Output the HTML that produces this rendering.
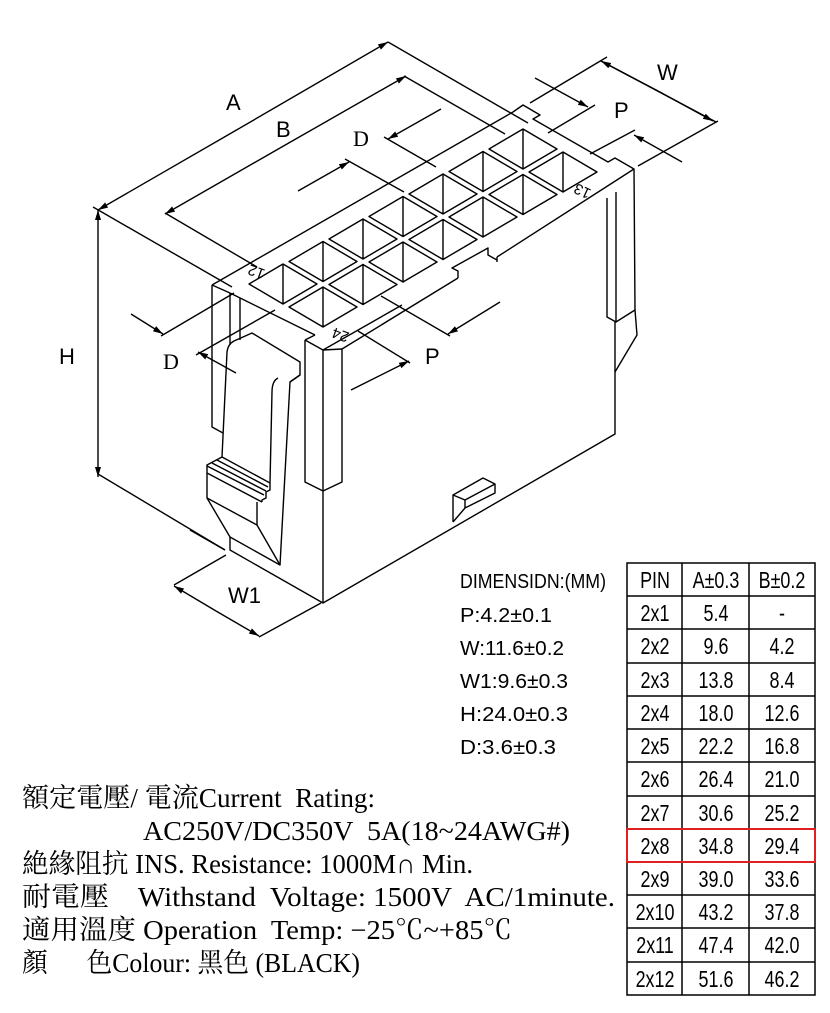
<!DOCTYPE html>
<html><head><meta charset="utf-8"><style>
html,body{margin:0;padding:0;background:#fff;}
svg{display:block;}
text{font-family:"Liberation Sans","Noto Sans CJK TC",sans-serif;fill:#000;white-space:pre;}
.s{font-family:"Liberation Serif","Noto Serif CJK SC","Noto Sans CJK TC",serif;}
</style></head><body>
<svg width="830" height="1013" viewBox="0 0 830 1013" xmlns="http://www.w3.org/2000/svg" xml:space="preserve">
<defs>
<marker id="ar" viewBox="0 0 10 6" refX="10" refY="3" markerWidth="10" markerHeight="6" orient="auto" markerUnits="userSpaceOnUse"><path d="M0,0 L10,3 L0,6 Z" fill="#000"/></marker>
</defs>
<g stroke="#000" stroke-width="1.4" fill="none" stroke-linejoin="round">
<line x1="240" y1="128" x2="98" y2="210" marker-end="url(#ar)"/>
<line x1="240" y1="128" x2="388" y2="42" marker-end="url(#ar)"/>
<line x1="93" y1="207" x2="232" y2="287"/>
<line x1="388" y1="42" x2="528" y2="123"/>
<line x1="280" y1="148" x2="165" y2="214" marker-end="url(#ar)"/>
<line x1="280" y1="148" x2="406" y2="76" marker-end="url(#ar)"/>
<line x1="165" y1="213" x2="257" y2="267"/>
<line x1="404" y1="76" x2="505" y2="134"/>
<line x1="441" y1="109" x2="388" y2="139" marker-end="url(#ar)"/>
<line x1="384" y1="137" x2="436" y2="167"/>
<line x1="298" y1="191" x2="349" y2="162" marker-end="url(#ar)"/>
<line x1="345" y1="159" x2="404" y2="192"/>
<line x1="601" y1="61" x2="716" y2="122"/>
<line x1="658" y1="91" x2="601" y2="61" marker-end="url(#ar)"/>
<line x1="658" y1="91" x2="713" y2="121" marker-end="url(#ar)"/>
<line x1="530" y1="103" x2="607" y2="57"/>
<line x1="638" y1="166" x2="718" y2="121"/>
<line x1="535" y1="78" x2="588" y2="107" marker-end="url(#ar)"/>
<line x1="548" y1="133" x2="595" y2="105"/>
<line x1="682" y1="162" x2="634" y2="135" marker-end="url(#ar)"/>
<line x1="590" y1="154" x2="635" y2="130"/>
<line x1="131" y1="314" x2="163" y2="334" marker-end="url(#ar)"/>
<line x1="161" y1="336" x2="234" y2="293"/>
<line x1="236" y1="373" x2="198" y2="352" marker-end="url(#ar)"/>
<line x1="196" y1="355" x2="275" y2="310"/>
<line x1="500" y1="302" x2="448" y2="334" marker-end="url(#ar)"/>
<line x1="450" y1="336" x2="381" y2="296"/>
<line x1="351" y1="390" x2="409" y2="361" marker-end="url(#ar)"/>
<line x1="410" y1="363" x2="358" y2="331"/>
<line x1="98" y1="340" x2="98" y2="210" marker-end="url(#ar)"/>
<line x1="98" y1="340" x2="98" y2="477" marker-end="url(#ar)"/>
<line x1="190" y1="530" x2="225" y2="550"/>
<line x1="98" y1="474" x2="225" y2="550"/>
<line x1="216" y1="611" x2="174" y2="586" marker-end="url(#ar)"/>
<line x1="216" y1="611" x2="259" y2="636" marker-end="url(#ar)"/>
<line x1="174" y1="585" x2="226" y2="555"/>
<line x1="259" y1="637" x2="321" y2="603"/>
<polyline points="230,537 230,550 323,603 615,434 615,322"/>
<line x1="323" y1="350" x2="323" y2="603"/>
<polyline points="305,340 305,482 323,491 342,482 342,349"/>
<polyline points="305,340 315,335"/>
<polyline points="305,340 323,350 342,349"/>
<line x1="342" y1="349" x2="458" y2="278"/>
<polyline points="458,278 458,271 452,268 488,248 488,255 497,260"/>
<line x1="497" y1="257" x2="634" y2="169"/>
<line x1="497" y1="257" x2="497" y2="262"/>
<line x1="212" y1="285" x2="513" y2="112"/>
<polyline points="513,112 523,105 540,115 533,119 608,162 615,158 634,169 635,310"/>
<line x1="212" y1="285" x2="230" y2="293"/>
<line x1="230" y1="293" x2="315" y2="335"/>
<line x1="323" y1="350" x2="402" y2="305"/>
<polyline points="607,198 607,317 616,322 616,192"/>
<polyline points="616,322 635,310 637,335 615,372"/>
<polyline points="212,285 212,427 223,433"/>
<line x1="230" y1="293" x2="230" y2="345"/>
<line x1="240" y1="298" x2="240" y2="340"/>
<path d="M222,457 L227,352 Q228,344 234,341 L252,333 L300,362 L300,375 L290,382 L280,565"/>
<path d="M278,378 Q272,381 272,392 L270,483"/>
<line x1="290" y1="382" x2="300" y2="375"/>
<polyline points="222,457 207,465 207,498 257,525 257,502"/>
<line x1="222" y1="457" x2="270" y2="483"/>
<line x1="217" y1="460" x2="268" y2="487"/>
<line x1="212" y1="463" x2="266" y2="491"/>
<line x1="207" y1="466" x2="264" y2="495"/>
<line x1="207" y1="473" x2="262" y2="502"/>
<polyline points="207,498 230,537 280,565 257,525"/>
<polyline points="270,483 270,490 266,492 266,498 262,500 262,502"/>
<polyline points="453,522 453,495 483,478 495,484 495,493 465,508 453,522"/>
<polyline points="453,495 465,500 495,484"/>
<line x1="465" y1="500" x2="465" y2="508"/>
<path d="M249,284 L283,264 L317,284 L283,304 Z M283,264 V304
M289,261.5 L323,241.5 L357,261.5 L323,281.5 Z M323,241.5 V281.5
M329,239 L363,219 L397,239 L363,259 Z M363,219 V259
M369,216.5 L403,196.5 L437,216.5 L403,236.5 Z M403,196.5 V236.5
M409,194 L443,174 L477,194 L443,214 Z M443,174 V214
M449,171.5 L483,151.5 L517,171.5 L483,191.5 Z M483,151.5 V191.5
M489,149 L523,129 L557,149 L523,169 Z M523,129 V169
M289,307 L323,287 L357,307 L323,327 Z M323,287 V327
M329,284.5 L363,264.5 L397,284.5 L363,304.5 Z M363,264.5 V304.5
M369,262 L403,242 L437,262 L403,282 Z M403,242 V282
M409,239.5 L443,219.5 L477,239.5 L443,259.5 Z M443,219.5 V259.5
M449,217 L483,197 L517,217 L483,237 Z M483,197 V237
M489,194.5 L523,174.5 L557,194.5 L523,214.5 Z M523,174.5 V214.5
M529,172 L563,152 L597,172 L563,192 Z M563,152 V192"/>
</g>
<g font-size="22">
<text x="226" y="110">A</text>
<text x="276" y="137">B</text>
<text x="353" y="146" class="s">D</text>
<text x="657" y="80">W</text>
<text x="614" y="118">P</text>
<text x="59" y="364">H</text>
<text x="163" y="369" class="s">D</text>
<text x="425" y="364">P</text>
<text x="228" y="603">W1</text>
</g>
<g font-size="15">
<text transform="translate(266,270) rotate(200)">12</text>
<text transform="translate(350,333) rotate(200)">24</text>
<text transform="translate(592,190) rotate(205)">13</text>
</g>
<g font-size="20">
<text x="460" y="588" textLength="146" lengthAdjust="spacingAndGlyphs">DIMENSIDN:(MM)</text>
<text x="460" y="622" textLength="92" lengthAdjust="spacingAndGlyphs">P:4.2±0.1</text>
<text x="460" y="655" textLength="104" lengthAdjust="spacingAndGlyphs">W:11.6±0.2</text>
<text x="460" y="688" textLength="108" lengthAdjust="spacingAndGlyphs">W1:9.6±0.3</text>
<text x="460" y="721" textLength="108" lengthAdjust="spacingAndGlyphs">H:24.0±0.3</text>
<text x="460" y="754" textLength="96" lengthAdjust="spacingAndGlyphs">D:3.6±0.3</text>
</g>
<g stroke="#000" stroke-width="1.5" fill="none">
<rect x="627" y="563" width="188" height="432"/>
<line x1="682" y1="563" x2="682" y2="995"/>
<line x1="749" y1="563" x2="749" y2="995"/>
<path d="M627,596H815 M627,629H815 M627,663H815 M627,696H815 M627,729H815 M627,762H815 M627,796H815 M627,829H815 M627,862H815 M627,895H815 M627,928H815 M627,962H815"/>
</g>
<rect x="627" y="829" width="188" height="33" fill="none" stroke="#e02020" stroke-width="2"/>
<g font-size="23" text-anchor="middle">
<g transform="translate(655,0) scale(0.78,1)">
<text x="0" y="588">PIN</text><text x="0" y="621">2x1</text><text x="0" y="654">2x2</text><text x="0" y="688">2x3</text><text x="0" y="721">2x4</text><text x="0" y="754">2x5</text><text x="0" y="787">2x6</text><text x="0" y="821">2x7</text><text x="0" y="854">2x8</text><text x="0" y="887">2x9</text><text x="0" y="920">2x10</text><text x="0" y="953">2x11</text><text x="0" y="987">2x12</text>
</g>
<g transform="translate(716,0) scale(0.78,1)">
<text x="0" y="588">A±0.3</text><text x="0" y="621">5.4</text><text x="0" y="654">9.6</text><text x="0" y="688">13.8</text><text x="0" y="721">18.0</text><text x="0" y="754">22.2</text><text x="0" y="787">26.4</text><text x="0" y="821">30.6</text><text x="0" y="854">34.8</text><text x="0" y="887">39.0</text><text x="0" y="920">43.2</text><text x="0" y="953">47.4</text><text x="0" y="987">51.6</text>
</g>
<g transform="translate(782,0) scale(0.78,1)">
<text x="0" y="588">B±0.2</text><text x="0" y="621">-</text><text x="0" y="654">4.2</text><text x="0" y="688">8.4</text><text x="0" y="721">12.6</text><text x="0" y="754">16.8</text><text x="0" y="787">21.0</text><text x="0" y="821">25.2</text><text x="0" y="854">29.4</text><text x="0" y="887">33.6</text><text x="0" y="920">37.8</text><text x="0" y="953">42.0</text><text x="0" y="987">46.2</text>
</g>
</g>
<g font-size="27">
<text class="s" x="22" y="807" textLength="353" lengthAdjust="spacingAndGlyphs">額定電壓/ 電流Current  Rating:</text>
<text class="s" x="143" y="840" textLength="427" lengthAdjust="spacingAndGlyphs">AC250V/DC350V  5A(18~24AWG#)</text>
<text class="s" x="22" y="873" textLength="451" lengthAdjust="spacingAndGlyphs">絶緣阻抗 INS. Resistance: 1000M∩ Min.</text>
<text class="s" x="22" y="906" textLength="593" lengthAdjust="spacingAndGlyphs">耐電壓    Withstand  Voltage: 1500V  AC/1minute.</text>
<text class="s" x="22" y="939" textLength="490" lengthAdjust="spacingAndGlyphs">適用溫度 Operation  Temp: −25℃~+85℃</text>
<text class="s" x="22" y="972" textLength="338" lengthAdjust="spacingAndGlyphs">顏      色Colour: 黑色 (BLACK)</text>
</g>
</svg>
</body></html>
